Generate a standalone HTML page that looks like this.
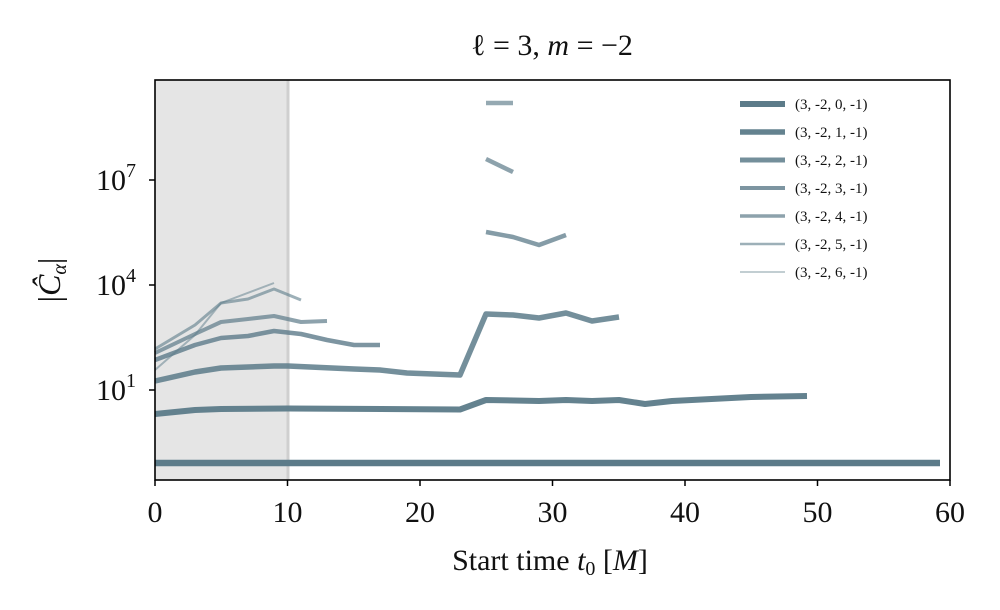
<!DOCTYPE html><html><head><style>body{margin:0;background:#fff}svg{display:block}text{font-family:"Liberation Serif",serif;fill:#111}</style></head><body>
<svg width="1000" height="610" viewBox="0 0 1000 610">
<rect x="155" y="80" width="133" height="400" fill="#e5e5e5"/>
<line x1="288" y1="80" x2="288" y2="480" stroke="#cfcfcf" stroke-width="3"/>
<g fill="none" stroke-linejoin="round" stroke="#5c7b89">
<polyline stroke-width="6.5" points="155,463 940,463"/>
<polyline stroke-width="6" stroke-opacity="0.95" points="155,414 195,410 221,409 288,408.5 460,409.5 486,400 539,401 566,400 592,401 619,400 645,404 672,401 751,397 807,396"/>
<polyline stroke-width="5.5" stroke-opacity="0.85" points="155,381 195,372 221,368 274,366 288,366 354,369 380,370 407,373 460,375 486,314 513,315 539,318 566,313 592,321 619,317"/>
<polyline stroke-width="4.5" stroke-opacity="0.8" points="155,360 195,345 221,338 248,336 274,331 301,334 327,340 354,345 380,345"/>
<polyline stroke-width="4" stroke-opacity="0.7" points="155,353 195,334 221,322 248,319 274,316 301,322 327,321"/>
<polyline stroke-width="3" stroke-opacity="0.6" points="155,349 195,325 221,303 248,299 274,289 301,300"/>
<polyline stroke-width="2" stroke-opacity="0.5" points="155,370 195,335 221,303 274,283"/>
<polyline stroke-width="4.5" stroke-opacity="0.75" points="486,232 513,237 539,245 566,235"/>
<polyline stroke-width="4.5" stroke-opacity="0.7" points="486,159 513,172"/>
<polyline stroke-width="4.5" stroke-opacity="0.65" points="486,103 513,103"/>
</g>
<rect x="155" y="80" width="795" height="400" fill="none" stroke="#000" stroke-width="1.6"/>
<g stroke="#000" stroke-width="1.5">
<line x1="155" y1="480" x2="155" y2="486"/><line x1="287.5" y1="480" x2="287.5" y2="486"/><line x1="420" y1="480" x2="420" y2="486"/><line x1="552.5" y1="480" x2="552.5" y2="486"/><line x1="685" y1="480" x2="685" y2="486"/><line x1="817.5" y1="480" x2="817.5" y2="486"/><line x1="950" y1="480" x2="950" y2="486"/>
<line x1="149" y1="390" x2="155" y2="390"/><line x1="149" y1="285" x2="155" y2="285"/><line x1="149" y1="180" x2="155" y2="180"/>
</g>
<g font-size="30" text-anchor="middle">
<text x="155" y="522">0</text><text x="287.5" y="522">10</text><text x="420" y="522">20</text><text x="552.5" y="522">30</text><text x="685" y="522">40</text><text x="817.5" y="522">50</text><text x="950" y="522">60</text>
<text x="550" y="570">Start time <tspan font-style="italic">t</tspan><tspan font-size="20" dy="5">0</tspan><tspan dy="-5"> [</tspan><tspan font-style="italic">M</tspan>]</text>
<text x="552" y="55">ℓ = 3, <tspan font-style="italic">m</tspan> = −2</text>
</g>
<g font-size="30" text-anchor="end">
<text x="136" y="400">10<tspan font-size="20" dy="-13">1</tspan></text>
<text x="136" y="295">10<tspan font-size="20" dy="-13">4</tspan></text>
<text x="136" y="190">10<tspan font-size="20" dy="-13">7</tspan></text>
</g>
<text transform="translate(60,280) rotate(-90)" font-size="32" text-anchor="middle">|<tspan font-style="italic">Ĉ</tspan><tspan font-size="20" font-style="italic" dy="6">α</tspan><tspan dy="-6">|</tspan></text>
<g stroke="#5c7b89" stroke-linecap="butt">
<line x1="740" y1="104" x2="785" y2="104" stroke-width="6"/>
<line x1="740" y1="132" x2="785" y2="132" stroke-width="5.5" stroke-opacity="0.95"/>
<line x1="740" y1="160" x2="785" y2="160" stroke-width="5" stroke-opacity="0.85"/>
<line x1="740" y1="188" x2="785" y2="188" stroke-width="4" stroke-opacity="0.8"/>
<line x1="740" y1="216" x2="785" y2="216" stroke-width="3.5" stroke-opacity="0.7"/>
<line x1="740" y1="244" x2="785" y2="244" stroke-width="2.5" stroke-opacity="0.6"/>
<line x1="740" y1="272" x2="785" y2="272" stroke-width="1.5" stroke-opacity="0.5"/>
</g>
<g font-size="15">
<text x="795" y="109">(3, -2, 0, -1)</text><text x="795" y="137">(3, -2, 1, -1)</text><text x="795" y="165">(3, -2, 2, -1)</text><text x="795" y="193">(3, -2, 3, -1)</text><text x="795" y="221">(3, -2, 4, -1)</text><text x="795" y="249">(3, -2, 5, -1)</text><text x="795" y="277">(3, -2, 6, -1)</text>
</g>
</svg></body></html>
